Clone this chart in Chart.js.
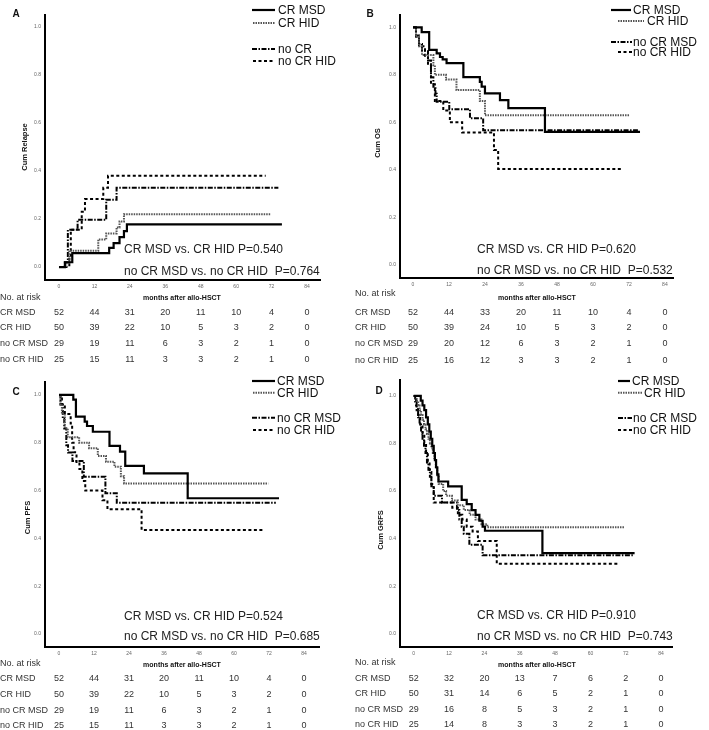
<!DOCTYPE html>
<html>
<head>
<meta charset="utf-8">
<title>Outcomes by donor type and remission status</title>
<script src="https://cdn.jsdelivr.net/npm/chart.js@4.4.1/dist/chart.umd.min.js"></script>
<style>
  body { margin: 0; background: #fff; }
  #figure { position: relative; width: 709px; height: 730px; overflow: hidden; background: #fff; }
  #figure canvas { position: absolute; }
</style>
</head>
<body>
<div id="figure">
  <canvas id="panel-a" width="355" height="367" style="left:0;top:0"></canvas>
  <canvas id="panel-b" width="354" height="367" style="left:355px;top:0"></canvas>
  <canvas id="panel-c" width="355" height="363" style="left:0;top:367px"></canvas>
  <canvas id="panel-d" width="354" height="363" style="left:355px;top:367px"></canvas>
</div>
<script>
const monthTicks = [0, 12, 24, 36, 48, 60, 72, 84];
const riskGroups = ['CR MSD', 'CR HID', 'no CR MSD', 'no CR HID'];

// --- A: cumulative relapse, [month, value] at each step ---
const relapseCrMsd = [[0, 0], [2, 0.02], [4.5, 0.058], [17, 0.08], [18.5, 0.1], [20.5, 0.125], [22, 0.15], [23, 0.178], [75.5, 0.178]];
const relapseCrHid = [[0, 0], [2.5, 0.02], [3.5, 0.068], [13.3, 0.115], [16, 0.14], [19.5, 0.165], [20.5, 0.19], [22, 0.22], [71.7, 0.22]];
const relapseNoCrMsd = [[0, 0], [2, 0.02], [3, 0.155], [6.3, 0.197], [16, 0.28], [19.5, 0.33], [74.3, 0.33]];
const relapseNoCrHid = [[0, 0], [3.5, 0.04], [4, 0.155], [7.7, 0.23], [8.8, 0.283], [15, 0.33], [16.6, 0.38], [70, 0.38]];

// --- B: overall survival ---
const osCrMsd = [[0, 1], [2.9, 0.98], [5.4, 0.905], [7.9, 0.89], [9, 0.875], [9.9, 0.865], [11.2, 0.849], [16.8, 0.79], [22.3, 0.77], [22.9, 0.75], [24, 0.722], [29, 0.694], [31.8, 0.66], [44, 0.56], [75.7, 0.56]];
const osCrHid = [[0, 1], [1, 0.96], [2, 0.92], [3, 0.883], [6.8, 0.84], [7.3, 0.8], [11, 0.78], [14.5, 0.736], [22.3, 0.69], [24, 0.63], [72.3, 0.63]];
const osNoCrMsd = [[0, 1], [1, 0.965], [2, 0.93], [3, 0.9], [5, 0.86], [6, 0.79], [6.8, 0.75], [7.5, 0.72], [7.9, 0.687], [12.1, 0.655], [19, 0.617], [23.4, 0.567], [75, 0.567]];
const osNoCrHid = [[0, 1], [1, 0.96], [2, 0.92], [4, 0.88], [5, 0.84], [6, 0.76], [7.3, 0.69], [10.1, 0.65], [12.3, 0.6], [16.4, 0.557], [27, 0.484], [28.4, 0.404], [70, 0.404]];

// --- C: progression-free survival ---
const pfsCrMsd = [[0, 1], [4.9, 0.98], [5.8, 0.909], [8.8, 0.888], [9.6, 0.87], [11.6, 0.846], [17.3, 0.787], [20.9, 0.763], [22.7, 0.703], [29.1, 0.672], [44.1, 0.568], [75.4, 0.568]];
const pfsCrHid = [[0, 1], [0.5, 0.96], [1, 0.92], [2, 0.86], [3, 0.823], [6.9, 0.8], [10.3, 0.777], [13.3, 0.745], [16.1, 0.721], [19, 0.7], [21.2, 0.66], [22.3, 0.63], [71.7, 0.63]];
const pfsNoCrMsd = [[0, 1], [0.5, 0.96], [1.3, 0.9], [1.8, 0.86], [2.5, 0.79], [3.1, 0.759], [4.6, 0.724], [8.5, 0.658], [15.9, 0.589], [19.8, 0.549], [74.3, 0.549]];
const pfsNoCrHid = [[0, 1], [1, 0.96], [2, 0.92], [4, 0.88], [4.5, 0.8], [5, 0.76], [6, 0.72], [7, 0.69], [8, 0.64], [9, 0.6], [14.9, 0.56], [16.6, 0.522], [28.3, 0.435], [70, 0.435]];

// --- D: GVHD-free relapse-free survival ---
const grfsCrMsd = [[0, 1], [2.4, 0.98], [3, 0.96], [3.6, 0.94], [4.2, 0.91], [4.8, 0.88], [5.3, 0.85], [5.8, 0.82], [6.3, 0.79], [6.8, 0.76], [7.2, 0.73], [7.6, 0.7], [8, 0.67], [8.4, 0.64], [11.7, 0.62], [16.3, 0.563], [18, 0.545], [19.7, 0.52], [21, 0.5], [22.3, 0.475], [23.4, 0.45], [24.2, 0.433], [43.7, 0.339], [75, 0.339]];
const grfsCrHid = [[0, 1], [1, 0.98], [1.5, 0.96], [2, 0.94], [2.5, 0.92], [3, 0.9], [3.5, 0.88], [4, 0.86], [4.5, 0.84], [5, 0.82], [5.5, 0.8], [6, 0.78], [6.5, 0.76], [7, 0.73], [7.5, 0.7], [8, 0.66], [8.5, 0.63], [10, 0.6], [11, 0.58], [13, 0.56], [15, 0.54], [17, 0.52], [19, 0.5], [21, 0.48], [23, 0.46], [25, 0.448], [71.4, 0.448]];
const grfsNoCrMsd = [[0, 1], [0.5, 0.97], [1, 0.94], [1.5, 0.91], [2, 0.88], [2.5, 0.85], [3, 0.82], [3.5, 0.79], [4, 0.76], [4.5, 0.72], [5, 0.69], [5.5, 0.66], [6, 0.62], [6.8, 0.58], [9.6, 0.552], [14.7, 0.52], [15.5, 0.48], [16.3, 0.45], [17, 0.42], [18.9, 0.374], [23.4, 0.33], [74.4, 0.33]];
const grfsNoCrHid = [[0, 1], [0.8, 0.96], [1.5, 0.92], [2.2, 0.88], [3, 0.84], [3.6, 0.8], [4.2, 0.76], [4.8, 0.72], [5.4, 0.68], [6, 0.63], [6.8, 0.552], [13.1, 0.53], [15, 0.5], [16.5, 0.48], [18, 0.45], [20, 0.43], [21.8, 0.39], [28.2, 0.294], [69.4, 0.294]];

// --- Numbers at risk (rows follow riskGroups) ---
const riskRelapse = [[52, 44, 31, 20, 11, 10, 4, 0], [50, 39, 22, 10, 5, 3, 2, 0], [29, 19, 11, 6, 3, 2, 1, 0], [25, 15, 11, 3, 3, 2, 1, 0]];
const riskOs = [[52, 44, 33, 20, 11, 10, 4, 0], [50, 39, 24, 10, 5, 3, 2, 0], [29, 20, 12, 6, 3, 2, 1, 0], [25, 16, 12, 3, 3, 2, 1, 0]];
const riskPfs = [[52, 44, 31, 20, 11, 10, 4, 0], [50, 39, 22, 10, 5, 3, 2, 0], [29, 19, 11, 6, 3, 2, 1, 0], [25, 15, 11, 3, 3, 2, 1, 0]];
const riskGrfs = [[52, 32, 20, 13, 7, 6, 2, 0], [50, 31, 14, 6, 5, 2, 1, 0], [29, 16, 8, 5, 3, 2, 1, 0], [25, 14, 8, 3, 3, 2, 1, 0]];

const FONT = '"Liberation Sans", Arial, Helvetica, sans-serif';
const lineStyles = [
    { color: '#000', dash: [], width: 2.2 },
    { color: '#555', dash: [1.5, 1], width: 2 },
    { color: '#000', dash: [5, 1.5, 1.5, 1.5], width: 2 },
    { color: '#000', dash: [3, 2.5], width: 2 }
];

const panels = [
    {
        id: 'panel-a', letter: 'A', letterPos: [16, 14],
        yTitle: 'Cum Relapse', yTitlePos: [25, 147],
        series: [relapseCrMsd, relapseCrHid, relapseNoCrMsd, relapseNoCrHid],
        legendNames: ['CR MSD', 'CR HID', 'no CR', 'no CR HID'],
        legendRows: [[252, 275, 278, 10], [253, 275, 278, 23], [252, 275, 278, 49], [253, 275, 278, 61]],
        pText: ['CR MSD vs. CR HID P=0.540', 'no CR MSD vs. no CR HID  P=0.764'], pPos: [124, 250, 271.5],
        risk: riskRelapse, riskTitleY: 298, riskY: [312.7, 328, 344, 360],
        xRange: [-4.74, 88.4], yRange: [-0.054, 1.05], top: 15, bottom: 280, right: 320
    },
    {
        id: 'panel-b', letter: 'B', letterPos: [15, 14],
        yTitle: 'Cum OS', yTitlePos: [23, 143],
        series: [osCrMsd, osCrHid, osNoCrMsd, osNoCrHid],
        legendNames: ['CR MSD', 'CR HID', 'no CR MSD', 'no CR HID'],
        legendRows: [[256, 276, 278, 10], [263, 289, 292, 21], [256, 277, 278, 42], [263, 277, 278, 52]],
        pText: ['CR MSD vs. CR HID P=0.620', 'no CR MSD vs. no CR HID  P=0.532'], pPos: [122, 249.5, 270.5],
        risk: riskOs, riskTitleY: 293.5, riskY: [312.7, 327.5, 344, 360.5],
        xRange: [-4.33, 86.7], yRange: [-0.0547, 1.0517], top: 15, bottom: 278, right: 318
    },
    {
        id: 'panel-c', letter: 'C', letterPos: [16, 25.5],
        yTitle: 'Cum PFS', yTitlePos: [28, 150.5],
        series: [pfsCrMsd, pfsCrHid, pfsNoCrMsd, pfsNoCrHid],
        legendNames: ['CR MSD', 'CR HID', 'no CR MSD', 'no CR HID'],
        legendRows: [[252, 275, 277, 14], [253, 275, 277, 25.7], [252, 275, 277, 50.7], [253, 275, 277, 63]],
        pText: ['CR MSD vs. CR HID P=0.524', 'no CR MSD vs. no CR HID  P=0.685'], pPos: [124, 249.7, 269.7],
        risk: riskPfs, riskTitleY: 296.3, riskY: [312, 327.7, 343.7, 359],
        xRange: [-4.8, 89.1], yRange: [-0.054, 1.054], top: 15, bottom: 280, right: 319
    },
    {
        id: 'panel-d', letter: 'D', letterPos: [24, 24.5],
        yTitle: 'Cum GRFS', yTitlePos: [26, 163],
        series: [grfsCrMsd, grfsCrHid, grfsNoCrMsd, grfsNoCrHid],
        legendNames: ['CR MSD', 'CR HID', 'no CR MSD', 'no CR HID'],
        legendRows: [[263, 275, 277, 14], [263, 287, 289, 25.7], [263, 277, 278, 51], [263, 277, 278, 63]],
        pText: ['CR MSD vs. CR HID P=0.910', 'no CR MSD vs. no CR HID  P=0.743'], pPos: [122, 248.7, 269.7],
        risk: riskGrfs, riskTitleY: 295.7, riskY: [311.3, 327, 343, 358],
        xRange: [-4.65, 87.7], yRange: [-0.056, 1.067], top: 13, bottom: 280, right: 317
    }
];

// --- Texts around each plot: letter, axis titles, legend, P values, risk table ---
function makeTextPlugin(panel) {
    return {
        id: 'panelText',
        afterDraw(chart) {
            const ctx = chart.ctx;
            const xScale = chart.scales.x;
            ctx.save();
            ctx.textBaseline = 'middle';

            ctx.fillStyle = '#111';
            ctx.textAlign = 'center';
            ctx.font = `bold 10px ${FONT}`;
            ctx.fillText(panel.letter, panel.letterPos[0], panel.letterPos[1]);

            ctx.save();
            ctx.translate(panel.yTitlePos[0], panel.yTitlePos[1]);
            ctx.rotate(-Math.PI / 2);
            ctx.font = `bold 7.5px ${FONT}`;
            ctx.fillText(panel.yTitle, 0, 0);
            ctx.restore();

            ctx.font = `bold 7px ${FONT}`;
            ctx.fillText('months after allo-HSCT', 182, 298);

            // legend
            panel.legendRows.forEach((row, i) => {
                const st = lineStyles[i];
                ctx.beginPath();
                ctx.setLineDash(st.dash);
                ctx.strokeStyle = st.color;
                ctx.lineWidth = st.width;
                ctx.moveTo(row[0], row[3]);
                ctx.lineTo(row[1], row[3]);
                ctx.stroke();
                ctx.setLineDash([]);
                ctx.textAlign = 'left';
                ctx.font = `12px ${FONT}`;
                ctx.fillStyle = '#111';
                ctx.fillText(panel.legendNames[i], row[2], row[3] + 0.5);
            });

            // P values
            ctx.font = `12px ${FONT}`;
            ctx.fillStyle = '#222';
            ctx.fillText(panel.pText[0], panel.pPos[0], panel.pPos[1]);
            ctx.fillText(panel.pText[1], panel.pPos[0], panel.pPos[2]);

            // numbers at risk
            ctx.font = `9px ${FONT}`;
            ctx.fillStyle = '#333';
            ctx.fillText('No. at risk', 0, panel.riskTitleY);
            panel.risk.forEach((row, r) => {
                const y = panel.riskY[r];
                ctx.textAlign = 'left';
                ctx.fillText(riskGroups[r], 0, y);
                ctx.textAlign = 'center';
                row.forEach((n, c) => {
                    ctx.fillText(String(n), xScale.getPixelForValue(monthTicks[c]), y);
                });
            });
            ctx.restore();
        }
    };
}

panels.forEach(panel => {
    const canvas = document.getElementById(panel.id);
    const datasets = panel.series.map((pts, i) => ({
        label: riskGroups[i],
        data: pts.map(p => ({ x: p[0], y: p[1] })),
        borderColor: lineStyles[i].color,
        borderDash: lineStyles[i].dash,
        borderWidth: lineStyles[i].width,
        stepped: 'before',
        pointRadius: 0,
        fill: false
    }));

    new Chart(canvas, {
        type: 'line',
        data: { datasets },
        options: {
            responsive: false,
            animation: false,
            devicePixelRatio: 1,
            layout: {
                padding: { top: panel.top, left: 0, right: canvas.width - panel.right, bottom: canvas.height - panel.bottom - 12 }
            },
            plugins: { legend: { display: false }, tooltip: { enabled: false } },
            scales: {
                x: {
                    type: 'linear',
                    min: panel.xRange[0],
                    max: panel.xRange[1],
                    grid: { display: false, drawTicks: false },
                    border: { color: '#000', width: 2 },
                    ticks: { stepSize: 12, includeBounds: false, padding: 4, color: '#666', font: { size: 5, family: FONT }, maxRotation: 0 },
                    afterFit: scale => { scale.height = 12; }
                },
                y: {
                    min: panel.yRange[0],
                    max: panel.yRange[1],
                    grid: { display: false, drawTicks: false },
                    border: { color: '#000', width: 2 },
                    ticks: { stepSize: 0.2, includeBounds: false, padding: 4, color: '#666', font: { size: 5, family: FONT }, callback: v => v.toFixed(1) },
                    afterFit: scale => { scale.width = 45; }
                }
            }
        },
        plugins: [makeTextPlugin(panel)]
    });
});
</script>
</body>
</html>
